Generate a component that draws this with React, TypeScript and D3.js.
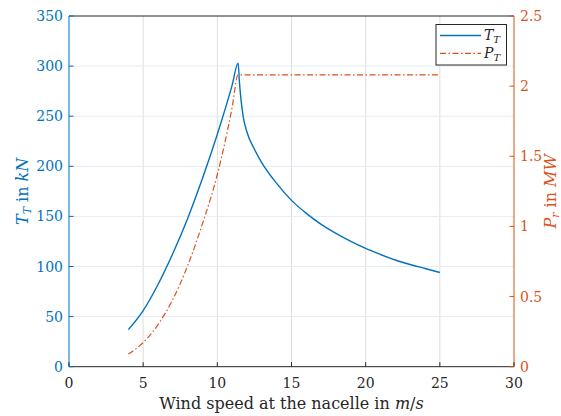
import React from "react";
import * as d3 from "d3";

const speedUp = [4, 5, 6, 7, 8, 9, 10, 11, 11.4];
const thrustUp = [37, 56, 82, 113, 148, 188, 232, 281, 303];
const speedDown = [11.4, 11.5, 11.6, 11.75, 12, 12.5, 13, 14, 15, 16, 17, 18, 19, 20, 21, 22, 23, 24, 25];
const thrustDown = [303, 282, 266, 249, 234, 217, 203.5, 183, 166, 153, 142, 133, 125, 118, 112, 106.5, 102, 98, 94];
const powerSpeed = [4, 5, 6, 7, 8, 9, 10, 11, 11.4, 25];
const powerValues = [0.09, 0.172, 0.3, 0.48, 0.72, 1.02, 1.37, 1.85, 2.08, 2.08];
const xTicks = [0, 5, 10, 15, 20, 25, 30];
const leftTicks = [0, 50, 100, 150, 200, 250, 300, 350];
const rightTicks = [0, 0.5, 1, 1.5, 2, 2.5];

const BLUE = "#0072BD";
const ORANGE = "#D95319";
const FONT = "'DejaVu Serif'";

export default function App() {
  const W = 561, H = 416;
  const L = 69, R = 514, T = 16, B = 366.7;
  const x = d3.scaleLinear().domain([0, 30]).range([L, R]);
  const yl = d3.scaleLinear().domain([0, 350]).range([B, T]);
  const yr = d3.scaleLinear().domain([0, 2.5]).range([B, T]);

  const thrustData = [
    ...speedUp.map((v, i) => [v, thrustUp[i]]),
    ...speedDown.slice(1).map((v, i) => [v, thrustDown[i + 1]]),
  ] as [number, number][];
  const powerData = powerSpeed.map((v, i) => [v, powerValues[i]]) as [number, number][];

  const lineT = d3.line<[number, number]>().x(d => x(d[0])).y(d => yl(d[1])).curve(d3.curveMonotoneX);
  const lineP = d3.line<[number, number]>().x(d => x(d[0])).y(d => yr(d[1])).curve(d3.curveMonotoneX);

  const fs = 14;
  const lfs = 16;
  return (
    <svg width={W} height={H} style={{ position: "absolute", left: 0, top: 0, background: "#fff", fontFamily: FONT }}>
      <rect x={0} y={0} width={W} height={H} fill="#fff" />
      {xTicks.slice(1, -1).map(t => (
        <line key={"gx" + t} x1={x(t)} x2={x(t)} y1={T} y2={B} stroke="#dedede" strokeWidth={1} />
      ))}
      {leftTicks.slice(1, -1).map(t => (
        <line key={"gy" + t} x1={L} x2={R} y1={yl(t)} y2={yl(t)} stroke="#e1edf7" strokeWidth={1} />
      ))}
      <path d={lineT(thrustData) || ""} fill="none" stroke={BLUE} strokeWidth={1.4} />
      <path d={lineP(powerData) || ""} fill="none" stroke={ORANGE} strokeWidth={1.2} strokeDasharray="6 2.5 1.5 2.5" />
      <line x1={L} x2={R} y1={T} y2={T} stroke="#262626" strokeWidth={1} />
      <line x1={L} x2={R} y1={B} y2={B} stroke="#262626" strokeWidth={1} />
      <line x1={L} x2={L} y1={T} y2={B} stroke={BLUE} strokeWidth={1} />
      <line x1={R} x2={R} y1={T} y2={B} stroke={ORANGE} strokeWidth={1} />
      {xTicks.map(t => (
        <g key={"xt" + t}>
          <line x1={x(t)} x2={x(t)} y1={B} y2={B - 4.5} stroke="#262626" />
          <text x={x(t)} y={388} textAnchor="middle" fontSize={fs} fill="#262626">{t}</text>
        </g>
      ))}
      {leftTicks.map(t => (
        <g key={"lt" + t}>
          <line x1={L} x2={L + 4.5} y1={yl(t)} y2={yl(t)} stroke={BLUE} />
          <text x={63} y={yl(t) + 5} textAnchor="end" fontSize={fs} fill={BLUE}>{t}</text>
        </g>
      ))}
      {rightTicks.map(t => (
        <g key={"rt" + t}>
          <line x1={R} x2={R - 4.5} y1={yr(t)} y2={yr(t)} stroke={ORANGE} />
          <text x={520} y={yr(t) + 5} textAnchor="start" fontSize={fs} fill={ORANGE}>{String(t)}</text>
        </g>
      ))}
      <text x={(L + R) / 2} y={409} textAnchor="middle" fontSize={lfs} fill="#262626">
        Wind speed at the nacelle in <tspan fontStyle="italic">m</tspan>/<tspan fontStyle="italic">s</tspan>
      </text>
      <text transform={`translate(28, ${(T + B) / 2}) rotate(-90)`} textAnchor="middle" fontSize={lfs} fill={BLUE}>
        <tspan fontStyle="italic">T</tspan>
        <tspan fontStyle="italic" fontSize={11} dy={3}>T</tspan>
        <tspan dy={-3}> in </tspan>
        <tspan fontStyle="italic">kN</tspan>
      </text>
      <text transform={`translate(556, ${(T + B) / 2}) rotate(-90)`} textAnchor="middle" fontSize={lfs} fill={ORANGE}>
        <tspan fontStyle="italic">P</tspan>
        <tspan fontStyle="italic" fontSize={11} dy={2.5}>r</tspan>
        <tspan dy={-2.5}> in </tspan>
        <tspan fontStyle="italic">MW</tspan>
      </text>
      <rect x={436} y={24.5} width={70.5} height={40.5} fill="#fff" stroke="#262626" strokeWidth={1} />
      <line x1={440} x2={481} y1={35.5} y2={35.5} stroke={BLUE} strokeWidth={1.4} />
      <line x1={440} x2={481} y1={53.3} y2={53.3} stroke={ORANGE} strokeWidth={1.2} strokeDasharray="6 2.5 1.5 2.5" />
      <text x={484} y={40} fontSize={14} fill="#262626">
        <tspan fontStyle="italic">T</tspan>
        <tspan fontStyle="italic" fontSize={10} dy={3}>T</tspan>
      </text>
      <text x={484} y={58} fontSize={14} fill="#262626">
        <tspan fontStyle="italic">P</tspan>
        <tspan fontStyle="italic" fontSize={10} dy={3}>T</tspan>
      </text>
    </svg>
  );
}
